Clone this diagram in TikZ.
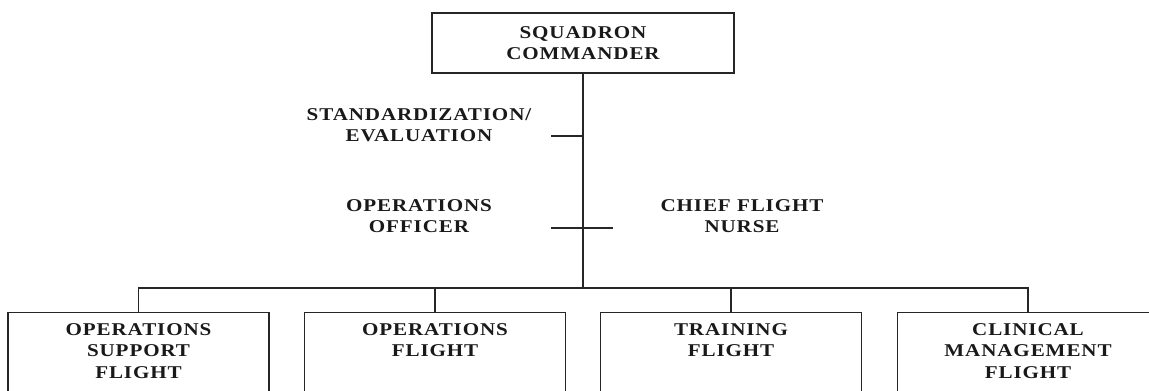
\documentclass[tikz,border=0pt]{standalone}
\usepackage{fontspec}
\newfontfamily\orgfont{Liberation Serif}[FakeStretch=1.17,LetterSpace=5]
\begin{document}
\begin{tikzpicture}[x=1pt,y=-1pt,
  line width=1.4pt,
  every node/.style={font=\orgfont\bfseries\fontsize{18}{21.5}\selectfont, text=black!90},
  lab/.style={align=center, inner sep=0pt},
  topbox/.style={draw=black!85, align=center, inner sep=0pt, minimum width=302pt, minimum height=60pt},
  unitbox/.style={draw=black!85, anchor=north, inner xsep=3pt, inner ysep=10.5pt, minimum width=261pt},
  conn/.style={draw=black!85, line width=1.4pt}]
\useasboundingbox (0,0) rectangle (1149,391);
\clip (0,0) rectangle (1149,391);
% top box
\node[topbox] (cmd) at (583,43) {SQUADRON\\COMMANDER};
% staff labels
\node[lab] (se) at (419,125) {STANDARDIZATION/\\EVALUATION};
\node[lab] (oo) at (419,216) {OPERATIONS\\OFFICER};
\node[lab] (cfn) at (742,216) {CHIEF FLIGHT\\NURSE};
% unit boxes
\node[unitbox] (u1) at (138.5,312) {\parbox[t][100pt][t]{255pt}{\centering OPERATIONS\\SUPPORT\\FLIGHT}};
\node[unitbox] (u2) at (435,312) {\parbox[t][100pt][t]{255pt}{\centering OPERATIONS\\FLIGHT}};
\node[unitbox] (u3) at (731,312) {\parbox[t][100pt][t]{255pt}{\centering TRAINING\\FLIGHT}};
\node[unitbox] (u4) at (1028,312) {\parbox[t][100pt][t]{255pt}{\centering CLINICAL\\MANAGEMENT\\FLIGHT}};
% coordinates
\coordinate (bus) at (583,288);
\coordinate (seL) at (551,136);
\coordinate (seR) at (583,136);
\coordinate (ooL) at (551,228);
\coordinate (ooR) at (613,228);
% connectors
\draw[conn] (cmd.south) -- (bus);
\draw[conn] (seL) -- (seR);
\draw[conn] (ooL) -- (ooR);
\draw[conn] (u1.north) |- (bus) -| (u4.north);
\draw[conn] (bus -| u2.north) -- (u2.north);
\draw[conn] (bus -| u3.north) -- (u3.north);
\end{tikzpicture}
\end{document}
